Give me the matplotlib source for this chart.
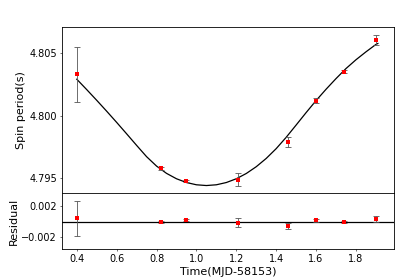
import matplotlib
matplotlib.use("Agg")
import matplotlib.pyplot as plt

# observed spin periods
t_obs = [0.40, 0.82, 0.95, 1.21, 1.46, 1.60, 1.74, 1.90]
p_obs = [4.8033, 4.7958, 4.7948, 4.7949, 4.7979, 4.8012, 4.8035, 4.8060]
p_err = [0.0022, 0.0001, 0.0001, 0.0005, 0.0004, 0.0002, 0.0001, 0.0004]

# model curve
t_fit = [0.40, 0.45, 0.50, 0.55, 0.60, 0.65, 0.70, 0.75, 0.80, 0.85,
         0.90, 0.95, 1.00, 1.05, 1.10, 1.15, 1.20, 1.25, 1.30, 1.35,
         1.40, 1.45, 1.50, 1.55, 1.60, 1.65, 1.70, 1.75, 1.80, 1.85,
         1.90, 1.91]
p_fit = [4.80290, 4.80207, 4.80122, 4.80035, 4.79946, 4.79855, 4.79763,
         4.79673, 4.79598, 4.79540, 4.79497, 4.79467, 4.79449, 4.79443,
         4.79449, 4.79467, 4.79497, 4.79539, 4.79593, 4.79659, 4.79737,
         4.79827, 4.79925, 4.80024, 4.80120, 4.80210, 4.80295, 4.80375,
         4.80445, 4.80508, 4.80567, 4.80575]

# residuals
res = [0.00043, -0.00005, 0.0002, -0.0001, -0.0005, 0.0002, 0.0, 0.0004]
res_err = [0.0022, 0.0001, 0.0001, 0.0006, 0.0004, 0.0002, 0.0001, 0.0004]

plt.rcParams["axes.linewidth"] = 1.2

fig = plt.figure(figsize=(8.3, 5.54), dpi=50)
ax1 = fig.add_axes([0.149, 0.303, 0.800, 0.599])
ax2 = fig.add_axes([0.149, 0.101, 0.800, 0.202], sharex=ax1)

ax1.plot(t_fit, p_fit, color="black", lw=1.8)
ax1.errorbar(t_obs, p_obs, yerr=p_err, fmt="none", ecolor="#555555",
             elinewidth=1.2, capsize=4, capthick=1.2)
ax1.plot(t_obs, p_obs, "s", color="red", ms=5, mew=0)
ax1.set_ylim(4.79383, 4.80705)
ax1.set_yticks([4.795, 4.800, 4.805])
ax1.set_ylabel("Spin period(s)", fontsize=16)
ax1.tick_params(axis="x", bottom=False, labelbottom=False)
ax1.tick_params(axis="y", labelsize=14)

ax2.axhline(0, color="black", lw=1.8)
ax2.errorbar(t_obs, res, yerr=res_err, fmt="none", ecolor="#555555",
             elinewidth=1.2, capsize=4, capthick=1.2)
ax2.plot(t_obs, res, "s", color="red", ms=5, mew=0)
ax2.set_ylim(-0.0035, 0.0037)
ax2.set_yticks([-0.002, 0.002])
ax2.set_xlim(0.325, 1.99)
ax2.set_xticks([0.4, 0.6, 0.8, 1.0, 1.2, 1.4, 1.6, 1.8])
ax2.set_ylabel("Residual", fontsize=16)
ax2.set_xlabel("Time(MJD-58153)", fontsize=16)
ax2.tick_params(labelsize=14)

plt.savefig("out.png", dpi=50)
